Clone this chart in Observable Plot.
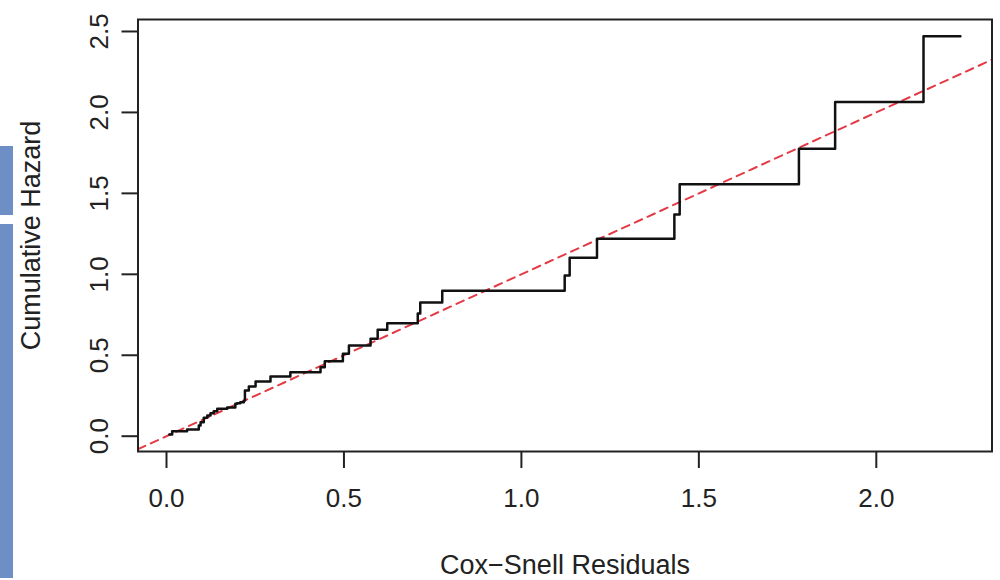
<!DOCTYPE html>
<html><head><meta charset="utf-8">
<script src="https://cdn.jsdelivr.net/npm/d3@7"></script>
<script src="https://cdn.jsdelivr.net/npm/@observablehq/plot@0.6"></script>
<style>
html,body{margin:0;padding:0;background:#fff;}
#wrap{position:relative;width:1000px;height:580px;overflow:hidden;}
.bar{position:absolute;left:0;width:13px;background:#6e8fc6;}
#chart{position:absolute;left:0;top:0;}
</style></head><body>
<div id="wrap">
<div class="bar" style="top:146px;height:69px"></div>
<div class="bar" style="top:224px;height:354px"></div>
<div id="chart"></div>
</div>
<script>
const residuals = [0.008, 0.016, 0.058, 0.091, 0.096, 0.105, 0.115, 0.124, 0.133, 0.143, 0.171, 0.194, 0.199, 0.208, 0.218, 0.221, 0.232, 0.251, 0.293, 0.349, 0.434, 0.446, 0.497, 0.514, 0.575, 0.595, 0.622, 0.708, 0.715, 0.777, 1.122, 1.136, 1.213, 1.431, 1.446, 1.782, 1.884, 2.133, 2.237];
const cumHazard = [0.010, 0.031, 0.041, 0.066, 0.086, 0.114, 0.128, 0.142, 0.154, 0.169, 0.177, 0.200, 0.204, 0.210, 0.220, 0.282, 0.307, 0.338, 0.369, 0.395, 0.426, 0.463, 0.509, 0.560, 0.602, 0.658, 0.698, 0.758, 0.826, 0.898, 0.993, 1.102, 1.219, 1.369, 1.557, 1.775, 2.065, 2.470, 2.470];
const xTicks = [0, 0.5, 1, 1.5, 2];
const yTicks = [0, 0.5, 1, 1.5, 2, 2.5];
const xLabel = "Cox−Snell Residuals";
const yLabel = "Cumulative Hazard";
const refIntercept = 0;
const refSlope = 1;
const xDomain = [-0.0803, 2.326];
const yDomain = [-0.0945, 2.574];

const steps = residuals.map((x, i) => ({x, y: cumHazard[i]}));
const ref = xDomain.map(x => ({x, y: refIntercept + refSlope * x}));
const font = "'Liberation Sans', Arial, Helvetica, sans-serif";

const chart = Plot.plot({
  width: 1000, height: 580,
  marginLeft: 137.5, marginRight: 8.5, marginTop: 19, marginBottom: 129,
  style: {fontFamily: font, background: "transparent", color: "#222"},
  x: {domain: xDomain},
  y: {domain: yDomain},
  marks: [
    Plot.line(ref, {x: "x", y: "y", stroke: "#e43a46", strokeWidth: 2, strokeDasharray: "8,6", clip: true}),
    Plot.line(steps, {x: "x", y: "y", curve: "step-after", stroke: "#111", strokeWidth: 2.5}),
    Plot.frame({stroke: "#222", strokeWidth: 2}),
    Plot.axisX({ticks: xTicks, tickSize: 17, tickPadding: 20, fontSize: 26, tickFormat: d => d.toFixed(1), label: null, stroke: "#222", strokeWidth: 2, fill: "#222"}),
    Plot.axisY({ticks: yTicks, tickSize: 16, tickFormat: () => "", label: null, stroke: "#222", strokeWidth: 2}),
    Plot.text(yTicks, {y: d => d, text: d => d.toFixed(1), frameAnchor: "left", dx: -38, rotate: -90, fontSize: 26, textAnchor: "middle", fill: "#222"}),
    Plot.text([xLabel], {frameAnchor: "bottom", dy: 114, fontSize: 27, lineAnchor: "middle", textAnchor: "middle", fill: "#222"}),
    Plot.text([yLabel], {frameAnchor: "left", dx: -107, rotate: -90, fontSize: 27, textAnchor: "middle", lineAnchor: "middle", fill: "#222"})
  ]
});
document.getElementById("chart").appendChild(chart);
</script>
</body></html>
